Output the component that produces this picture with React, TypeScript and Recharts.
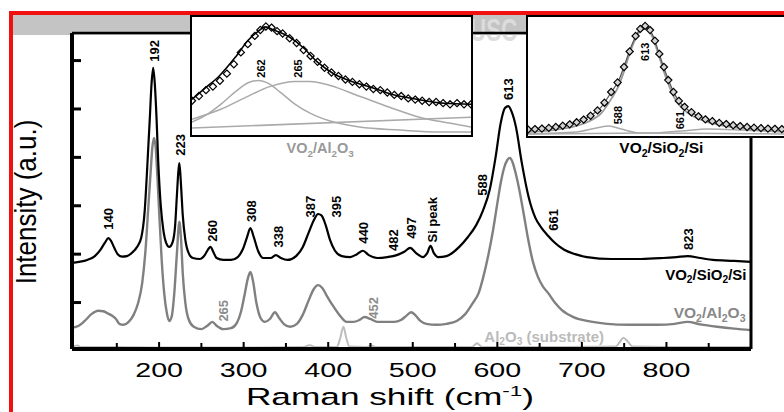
import React from "react";
import { ComposedChart, Line, Scatter, XAxis, YAxis, ReferenceDot } from "recharts";

const FONT = '"Liberation Sans", Arial, sans-serif';

// Raman shift (cm-1) vs intensity (a.u.)
const vo2SiO2Si: [number, number][] = [
  [97, 1.82], [105, 1.84], [115, 1.88], [124, 1.96], [131, 2.1], [136, 2.24], [140, 2.33], [143, 2.28],
  [147, 2.13], [151, 2.0], [156, 1.95], [162, 1.96], [168, 2.03], [174, 2.15], [179, 2.35], [183, 2.9],
  [186, 3.8], [189, 4.8], [191, 5.5], [193, 5.85], [195, 5.5], [197, 4.8], [199, 3.9], [202, 3.0],
  [205, 2.5], [208, 2.25], [212, 2.15], [216, 2.25], [219, 2.6], [221, 3.2], [223, 3.75], [224, 3.88],
  [226, 3.4], [228, 2.8], [231, 2.3], [235, 2.02], [240, 1.92], [248, 1.9], [254, 1.98], [258, 2.1],
  [261, 2.15], [264, 2.05], [268, 1.92], [276, 1.88], [285, 1.88], [293, 1.94], [299, 2.1], [304, 2.35],
  [308, 2.54], [312, 2.35], [317, 2.07], [323, 1.92], [332, 1.92], [338, 1.98], [344, 1.92], [352, 1.88],
  [362, 1.96], [370, 2.15], [377, 2.45], [383, 2.7], [388, 2.83], [392, 2.8], [397, 2.6], [402, 2.3],
  [408, 2.07], [416, 1.96], [426, 1.94], [434, 2.0], [441, 2.07], [448, 1.98], [458, 1.92], [470, 1.94],
  [481, 1.98], [490, 2.05], [497, 2.13], [504, 2.02], [512, 1.94], [517, 2.02], [521, 2.17], [525, 2.02],
  [530, 1.94], [540, 1.96], [555, 2.15], [565, 2.35], [575, 2.6], [583, 2.9], [591, 3.33], [598, 4.01],
  [604, 4.71], [609, 5.02], [613, 5.06], [617, 4.94], [622, 4.63], [629, 3.88], [637, 3.18], [645, 2.75],
  [652, 2.55], [660, 2.38], [667, 2.25], [679, 2.09], [692, 2.0], [706, 1.94], [735, 1.9], [770, 1.9],
  [796, 1.92], [812, 1.94], [825, 1.96], [840, 1.92], [855, 1.88], [880, 1.86], [900, 1.84],
];

const vo2Al2O3: [number, number][] = [
  [97, 0.48], [105, 0.52], [112, 0.62], [120, 0.76], [128, 0.83], [134, 0.82], [140, 0.77], [145, 0.72],
  [149, 0.66], [153, 0.56], [158, 0.54], [164, 0.6], [170, 0.75], [175, 0.98], [180, 1.4], [184, 2.1],
  [187, 2.9], [190, 3.7], [192, 4.2], [194, 4.4], [196, 4.2], [198, 3.6], [200, 2.9], [203, 1.9],
  [206, 1.2], [209, 0.8], [212, 0.62], [215, 0.72], [218, 1.2], [221, 2.0], [224, 2.67], [226, 2.3],
  [228, 1.6], [231, 1.0], [235, 0.65], [241, 0.5], [250, 0.45], [257, 0.52], [263, 0.6], [268, 0.52],
  [276, 0.45], [285, 0.47], [292, 0.58], [297, 0.82], [301, 1.15], [305, 1.5], [308, 1.63], [311, 1.45],
  [315, 1.0], [320, 0.68], [325, 0.6], [331, 0.66], [337, 0.8], [342, 0.68], [348, 0.55], [355, 0.5],
  [363, 0.56], [370, 0.75], [377, 1.05], [383, 1.28], [388, 1.36], [393, 1.3], [398, 1.15], [405, 0.95],
  [413, 0.75], [422, 0.6], [430, 0.6], [437, 0.64], [443, 0.7], [450, 0.66], [458, 0.6], [468, 0.6],
  [478, 0.6], [486, 0.64], [492, 0.72], [498, 0.8], [503, 0.74], [509, 0.62], [516, 0.56], [528, 0.54],
  [540, 0.56], [552, 0.62], [562, 0.76], [571, 0.99], [578, 1.2], [583, 1.5], [589, 1.95], [595, 2.5],
  [600, 3.05], [604, 3.47], [608, 3.78], [612, 3.95], [615, 3.99], [618, 3.9], [622, 3.65], [626, 3.33],
  [631, 2.85], [636, 2.35], [642, 1.85], [648, 1.53], [654, 1.33], [660, 1.2], [668, 1.0], [676, 0.85],
  [690, 0.7], [706, 0.62], [730, 0.56], [755, 0.54], [790, 0.54], [810, 0.56], [825, 0.6], [840, 0.55],
  [860, 0.5], [880, 0.46], [900, 0.43],
];

const al2o3Substrate: [number, number][] = [
  [97, 0.08], [103, 0.11], [108, 0.08], [150, 0.08], [200, 0.07], [300, 0.07], [370, 0.08], [378, 0.12],
  [385, 0.08], [410, 0.08], [414, 0.25], [418, 0.5], [421, 0.3], [425, 0.09], [445, 0.08], [451, 0.11],
  [457, 0.08], [570, 0.08], [576, 0.16], [582, 0.08], [650, 0.08], [740, 0.09], [745, 0.19], [749, 0.27],
  [754, 0.2], [760, 0.09], [800, 0.08], [900, 0.08],
];

const xTicks = [150, 200, 250, 300, 350, 400, 450, 500, 550, 600, 650, 700, 750, 800, 850];
const yTicks = [1, 2, 3, 4, 5, 6];

// peak annotations: text, position (cm-1, a.u.), colour
const peakLabels: [string, number, number, string][] = [
  ["140", 139.6, 2.73, "#000"], ["192", 195, 6.2, "#000"], ["223", 224.9, 4.26, "#000"],
  ["260", 262.7, 2.48, "#000"], ["308", 308.9, 2.89, "#000"], ["338", 340.8, 2.36, "#000"],
  ["387", 378.7, 2.98, "#000"], ["395", 409.5, 2.98, "#000"], ["440", 441.4, 2.44, "#000"],
  ["482", 476.9, 2.29, "#000"], ["497", 498.2, 2.54, "#000"], ["Si peak", 523.1, 2.71, "#000"],
  ["588", 582.2, 3.43, "#000"], ["613", 613, 5.41, "#000"], ["661", 666.3, 2.71, "#000"],
  ["823", 826, 2.31, "#000"], ["265", 275.7, 0.83, "#8c8c8c"], ["452", 453.3, 0.89, "#8c8c8c"],
];

// inset 1 (VO2/Al2O3 fit), arbitrary units 0-100
const inset1Data: [number, number][] = [
  [0, 29], [2.5, 33], [5, 38], [7.5, 41], [10, 46], [12.5, 52], [15, 60], [17.5, 70], [20, 77],
  [22.5, 84], [24.5, 89], [26.5, 92], [28.5, 91], [30.5, 88], [32.5, 86], [35, 82], [37.5, 78],
  [40, 72], [42.5, 67], [45, 62], [47.5, 57], [50, 53], [52.5, 50], [55, 47], [57.5, 45], [60, 43],
  [62.5, 41], [65, 39], [67.5, 38], [70, 36], [72.5, 34], [75, 33], [77.5, 31], [80, 30], [82.5, 29],
  [85, 28], [87.5, 28], [90, 27], [92.5, 26], [95, 27], [97.5, 26], [100, 26],
];
const inset1Fit: [number, number][] = [
  [0, 30.2], [5, 40.3], [9.6, 49.6], [15.7, 66.4], [20.3, 80.7], [23.5, 87.4], [26.3, 91.6], [29.2, 89.1],
  [33.5, 84.9], [39.5, 74.8], [45.2, 61.3], [51.2, 51.3], [57.3, 45.4], [64.4, 40.3], [71.5, 34.5],
  [80.8, 30.2], [90.4, 26.9], [100, 26],
];
const inset1Peak262: [number, number][] = [
  [0, 10.9], [5, 16.8], [10.3, 26], [15.7, 37], [20.3, 44.5], [23.8, 46.2], [27.4, 43.7], [31.7, 36.1],
  [37, 26], [42.3, 18.5], [49.5, 11.8], [60, 6.7], [74.4, 4.2], [88.6, 2.5], [100, 2.5],
];
const inset1Peak265: [number, number][] = [
  [0, 13.4], [10.3, 21.8], [19.2, 31.9], [28.1, 41.2], [37, 45.4], [42.3, 45.4], [49.5, 42], [60.1, 32.8],
  [70.8, 23.5], [81.5, 15.1], [92.2, 10.1], [100, 6.7],
];
const inset1Base: [number, number][] = [[0, 5.9], [100, 15.1]];

// inset 2 (VO2/SiO2/Si fit)
const inset2Data: [number, number][] = [
  [0, 5.5], [2.7, 5.8], [5.4, 6.2], [8.1, 6.8], [10.8, 7.6], [13.5, 8.6], [16.2, 9.8], [18.9, 11.5],
  [21.6, 13.8], [24.3, 17], [27, 21.5], [29.7, 28], [32.3, 37], [34.8, 45], [37.3, 58], [39.5, 71],
  [41.8, 84], [43.6, 90], [45.5, 92.5], [47.4, 89], [49.3, 80], [51, 69], [52.8, 58], [54.5, 47],
  [56.5, 37], [58.6, 29.5], [60.8, 24.5], [63.5, 20], [66.2, 16.5], [68.9, 14], [71.6, 12.5], [74.3, 11],
  [77, 10], [79.7, 9], [82.4, 8.3], [85.1, 7.6], [87.8, 7], [90.5, 6.6], [93.2, 6.2], [95.9, 6], [98.6, 5.8],
];
const inset2Fit: [number, number][] = [
  [0, 5], [10.1, 7.5], [17.9, 10.8], [23.3, 15.8], [28.4, 24.2], [32.3, 36.7], [35.4, 47.5], [37.7, 60.8],
  [39.3, 70.8], [41.2, 80.8], [42.8, 87.5], [44.4, 91.6], [45.5, 92.5], [47.1, 90], [48.6, 84.1],
  [50.6, 71.6], [52.5, 59.1], [54.5, 47.5], [56.4, 37.5], [58.4, 30], [62.3, 21.7], [67.3, 15.8],
  [75.1, 10.8], [85.6, 7.5], [95.7, 5.8], [100, 5.8],
];
const inset2Peak613: [number, number][] = [
  [0, 3.5], [10, 5], [18, 8], [23.3, 12], [28.4, 19], [32.3, 31], [35.4, 43], [37.7, 57], [39.3, 68],
  [41.2, 79], [42.8, 86], [44.4, 90], [45.5, 91], [47.1, 88.5], [48.6, 82], [50.6, 69], [52.5, 56],
  [54.5, 44], [56.4, 34], [58.4, 27], [62.3, 19], [67.3, 13.5], [75, 9], [85.6, 6], [95.7, 4.5], [100, 4],
];
const inset2Peak588: [number, number][] = [
  [0, 1.7], [18.7, 3.3], [26.5, 6.7], [31.5, 8.3], [36.2, 5.8], [44, 2.5], [100, 1.7],
];
const inset2Peak661: [number, number][] = [
  [0, 1.7], [47.9, 2.5], [59.5, 4.2], [70, 5.8], [82.9, 5], [100, 3.3],
];

const rows = (d: [number, number][]) => d.map(([x, y]) => ({ x, y }));

const XTick = ({ x, y, payload }: any) => {
  const major = payload.value % 100 === 0;
  return (
    <g>
      <line x1={x} x2={x} y1={y - 2} y2={y - (major ? 7 : 6)} stroke="#000" strokeWidth={2} />
      {major && (
        <text transform={`translate(${x},${y + 28}) scale(1.47,1)`} textAnchor="middle" fontSize={19.5} fontFamily={FONT} fill="#000">
          {payload.value}
        </text>
      )}
    </g>
  );
};

const YTick = ({ x, y }: any) => <line x1={x} x2={x + 9} y1={y} y2={y} stroke="#000" strokeWidth={3} />;

const rotLabel = (text: string, color: string, size: number) => (p: any) => (
  <text transform={`translate(${p.cx},${p.cy}) rotate(-90)`} textAnchor="middle" dominantBaseline="central" fontSize={size} fontWeight="bold" fontFamily={FONT} fill={color}>
    {text}
  </text>
);

// chemical formula with subscripted digits
const formula = (s: string, size: number, color: string, anchor: string) => (p: any) => {
  const parts = s.split(/(\d)/).filter((t) => t !== "");
  let shifted = false;
  return (
    <text x={p.cx} y={p.cy} textAnchor={anchor} fontSize={size} fontWeight="bold" fontFamily={FONT} fill={color}>
      {parts.map((t, i) => {
        const sub = /\d/.test(t);
        const dy = sub ? (shifted ? 0 : 3.5) : shifted ? -3.5 : 0;
        shifted = sub;
        return (
          <tspan key={i} dy={dy} fontSize={sub ? size * 0.68 : size}>
            {t}
          </tspan>
        );
      })}
    </text>
  );
};

const Diamond = (fill: string) => (p: any) => {
  const s = 3.6;
  return <path d={`M${p.cx},${p.cy - s}L${p.cx + s},${p.cy}L${p.cx},${p.cy + s}L${p.cx - s},${p.cy}Z`} fill={fill} stroke="#000" strokeWidth={1.2} />;
};

function Inset1() {
  return (
    <div style={{ position: "absolute", left: 190, top: 15, width: 283, height: 122, border: "2px solid #000", boxSizing: "border-box", background: "#fff" }}>
      <ComposedChart width={279} height={118} margin={{ top: 0, right: 0, bottom: 0, left: 0 }}>
        <XAxis type="number" dataKey="x" domain={[0, 100]} hide />
        <YAxis type="number" dataKey="y" domain={[0, 100]} hide />
        <Line data={rows(inset1Base)} dataKey="y" type="linear" stroke="#aaa" strokeWidth={1.5} dot={false} isAnimationActive={false} />
        <Line data={rows(inset1Peak262)} dataKey="y" type="monotone" stroke="#aaa" strokeWidth={1.5} dot={false} isAnimationActive={false} />
        <Line data={rows(inset1Peak265)} dataKey="y" type="monotone" stroke="#aaa" strokeWidth={1.5} dot={false} isAnimationActive={false} />
        <Line data={rows(inset1Fit)} dataKey="y" type="monotone" stroke="#000" strokeWidth={1.6} dot={false} isAnimationActive={false} />
        <Scatter data={rows(inset1Data)} shape={Diamond("none")} isAnimationActive={false} />
        <ReferenceDot x={24.9} y={56.3} r={0} ifOverflow="visible" shape={rotLabel("262", "#000", 11)} />
        <ReferenceDot x={38.1} y={56.3} r={0} ifOverflow="visible" shape={rotLabel("265", "#000", 11)} />
      </ComposedChart>
    </div>
  );
}

function Inset2() {
  return (
    <div style={{ position: "absolute", left: 526, top: 15, width: 264, height: 123, border: "2px solid #000", boxSizing: "border-box", background: "#fff" }}>
      <ComposedChart width={260} height={119} margin={{ top: 0, right: 0, bottom: 0, left: 0 }}>
        <XAxis type="number" dataKey="x" domain={[0, 101]} hide />
        <YAxis type="number" dataKey="y" domain={[0, 100]} hide />
        <Line data={rows(inset2Peak588)} dataKey="y" type="monotone" stroke="#aaa" strokeWidth={1.5} dot={false} isAnimationActive={false} />
        <Line data={rows(inset2Peak661)} dataKey="y" type="monotone" stroke="#aaa" strokeWidth={1.5} dot={false} isAnimationActive={false} />
        <Line data={rows(inset2Peak613)} dataKey="y" type="monotone" stroke="#999" strokeWidth={1.8} dot={false} isAnimationActive={false} />
        <Line data={rows(inset2Fit)} dataKey="y" type="monotone" stroke="#555" strokeWidth={1.2} dot={false} isAnimationActive={false} />
        <Scatter data={rows(inset2Data)} shape={Diamond("#d4d4d4")} isAnimationActive={false} />
        <ReferenceDot x={45.5} y={70.8} r={0} ifOverflow="visible" shape={rotLabel("613", "#000", 11)} />
        <ReferenceDot x={35} y={17.5} r={0} ifOverflow="visible" shape={rotLabel("588", "#000", 11)} />
        <ReferenceDot x={59.1} y={13.3} r={0} ifOverflow="visible" shape={rotLabel("661", "#000", 11)} />
      </ComposedChart>
    </div>
  );
}

export default function App() {
  return (
    <div style={{ position: "absolute", left: 0, top: 0, width: 784, height: 412, overflow: "hidden", background: "#fff", fontFamily: FONT }}>
      <div style={{ position: "absolute", left: 13, top: 15, width: 520, height: 20, background: "#c4c4c4" }} />
      <div style={{ position: "absolute", left: 470, top: 12, fontSize: 32, fontWeight: "bold", color: "#dcdcdc", transform: "scaleX(0.7)", transformOrigin: "left top" }}>USC</div>

      <div style={{ position: "absolute", left: 0, top: 0 }}>
        <ComposedChart width={784} height={412} margin={{ top: 32, right: 32, bottom: 33, left: 71 }}>
          <XAxis type="number" dataKey="x" domain={[97, 900]} ticks={xTicks} interval={0} height={30} tickSize={0} tickMargin={0} tickLine={false} tick={<XTick />} axisLine={{ stroke: "#000", strokeWidth: 4 }} />
          <XAxis xAxisId="top" orientation="top" type="number" dataKey="x" domain={[97, 900]} height={1} tick={false} tickLine={false} axisLine={{ stroke: "#000", strokeWidth: 2.5 }} />
          <YAxis type="number" dataKey="y" domain={[0.04, 6.57]} ticks={yTicks} interval={0} width={1} tickSize={0} tickMargin={0} tickLine={false} tick={<YTick />} axisLine={{ stroke: "#000", strokeWidth: 4 }} />
          <YAxis yAxisId="right" orientation="right" type="number" domain={[0, 1]} width={1} tick={false} tickLine={false} axisLine={{ stroke: "#000", strokeWidth: 3 }} />
          <Line data={rows(al2o3Substrate)} dataKey="y" type="monotone" stroke="#bdbdbd" strokeWidth={2} dot={false} isAnimationActive={false} />
          <Line data={rows(vo2Al2O3)} dataKey="y" type="monotone" stroke="#808080" strokeWidth={2.4} dot={false} isAnimationActive={false} />
          <Line data={rows(vo2SiO2Si)} dataKey="y" type="monotone" stroke="#000" strokeWidth={2.2} dot={false} isAnimationActive={false} />
          {peakLabels.map(([t, x, y, c]) => (
            <ReferenceDot key={t + x} x={x} y={y} r={0} ifOverflow="visible" shape={rotLabel(t, c, 13)} />
          ))}
          <ReferenceDot x={894.7} y={1.47} r={0} ifOverflow="visible" shape={formula("VO2/SiO2/Si", 15, "#000", "end")} />
          <ReferenceDot x={893.5} y={0.68} r={0} ifOverflow="visible" shape={formula("VO2/Al2O3", 15.5, "#888", "end")} />
          <ReferenceDot x={584.6} y={0.19} r={0} ifOverflow="visible" shape={formula("Al2O3 (substrate)", 15, "#bbb", "start")} />
          <ReferenceDot x={390.5} y={4.09} r={0} ifOverflow="visible" shape={formula("VO2/Al2O3", 14.5, "#999", "middle")} />
          <ReferenceDot x={794} y={4.09} r={0} ifOverflow="visible" shape={formula("VO2/SiO2/Si", 15.5, "#000", "middle")} />
        </ComposedChart>
      </div>

      <svg width={784} height={412} style={{ position: "absolute", left: 0, top: 0, pointerEvents: "none" }}>
        <text transform="translate(36,202) scale(1.12,1) rotate(-90)" textAnchor="middle" fontSize={26} fontFamily={FONT} fill="#000">
          Intensity (a.u.)
        </text>
        <text transform="translate(390,405) scale(1.5,1)" textAnchor="middle" fontSize={23.5} fontFamily={FONT} fill="#000">
          Raman shift (cm<tspan dy={-9} fontSize={15}>-1</tspan>
          <tspan dy={9}>)</tspan>
        </text>
      </svg>

      <Inset1 />
      <Inset2 />

      <div style={{ position: "absolute", left: 9, top: 11, width: 780, height: 4, background: "#f01010" }} />
      <div style={{ position: "absolute", left: 9, top: 11, width: 4, height: 410, background: "#f01010" }} />
    </div>
  );
}
